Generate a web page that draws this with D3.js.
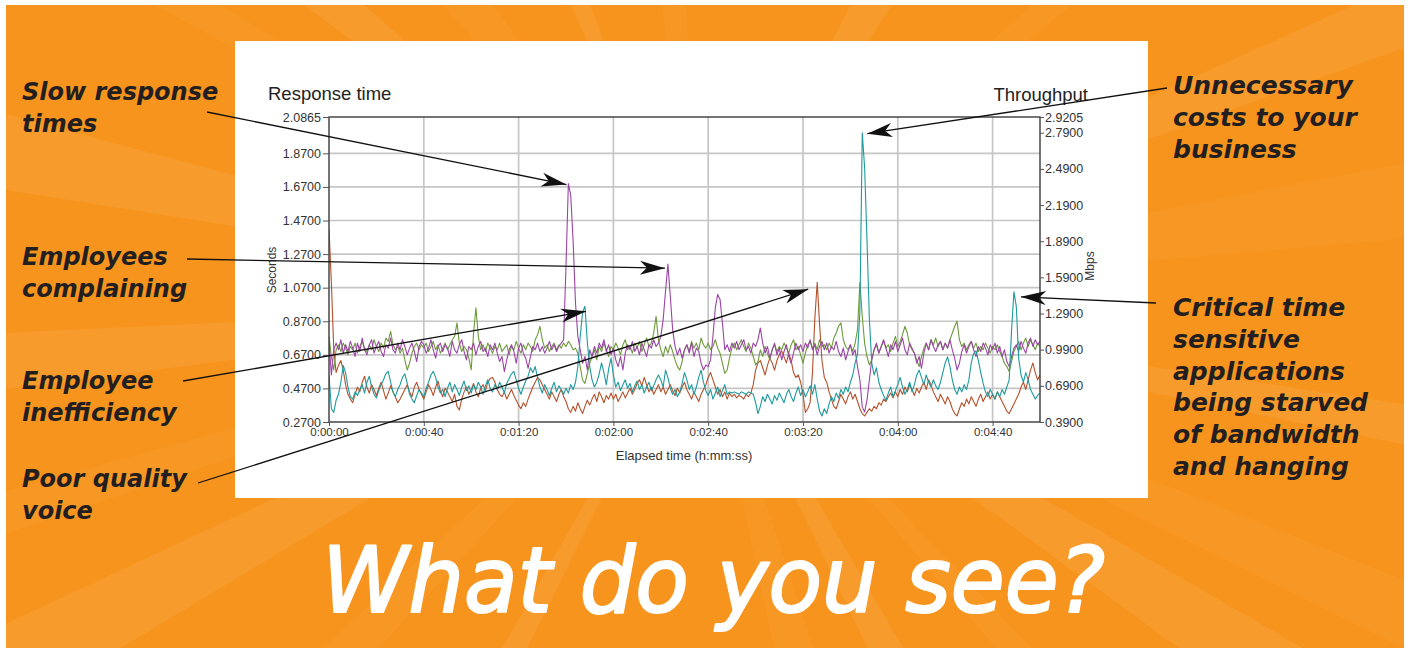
<!DOCTYPE html>
<html><head><meta charset="utf-8">
<script src="https://cdn.jsdelivr.net/npm/d3@7/dist/d3.min.js"></script>
<style>html,body{margin:0;padding:0;background:#fff;}svg{display:block;}</style>
</head><body>
<svg id="c" width="1411" height="652"></svg>
<script>
// ---------- DATA (one value per second, 0..300 s) ----------
const seconds = d3.range(0, 301);
const leftTicks = [2.0865, 1.87, 1.67, 1.47, 1.27, 1.07, 0.87, 0.67, 0.47, 0.27];
const rightTicks = [2.9205, 2.79, 2.49, 2.19, 1.89, 1.59, 1.29, 0.99, 0.69, 0.39];
const timeTicks = [0, 40, 80, 120, 160, 200, 240, 280];

// Response time (Seconds, left axis)
const purple = [
0.75,0.55,0.70,0.74,0.70,0.76,0.68,0.73,0.69,0.75,
0.71,0.66,0.74,0.69,0.77,0.70,0.67,0.73,0.76,0.68,
0.72,0.75,0.69,0.66,0.73,0.71,0.77,0.70,0.68,0.74,
0.70,0.76,0.72,0.67,0.71,0.74,0.69,0.63,0.72,0.75,
0.73,0.68,0.71,0.76,0.70,0.65,0.72,0.74,0.69,0.73,
0.71,0.66,0.75,0.70,0.68,0.73,0.76,0.69,0.64,0.72,
0.70,0.74,0.67,0.72,0.75,0.69,0.71,0.66,0.73,0.70,
0.74,0.68,0.63,0.66,0.57,0.64,0.70,0.73,0.69,0.62,
0.71,0.74,0.68,0.65,0.59,0.66,0.72,0.70,0.74,0.69,
0.72,0.68,0.71,0.75,0.70,0.73,0.69,0.72,0.74,0.76,
1.20,1.69,1.62,1.35,0.98,0.78,0.70,0.62,0.66,0.58,
0.70,0.66,0.72,0.68,0.74,0.71,0.76,0.69,0.73,0.67,
0.71,0.64,0.60,0.66,0.58,0.68,0.73,0.70,0.75,0.69,
0.72,0.67,0.74,0.70,0.66,0.73,0.71,0.76,0.72,0.74,
0.78,0.88,1.05,1.21,1.02,0.82,0.72,0.67,0.71,0.65,
0.70,0.73,0.68,0.74,0.66,0.71,0.69,0.62,0.58,0.61,
0.60,0.64,0.78,0.95,1.03,1.00,0.86,0.70,0.73,0.69,
0.74,0.71,0.75,0.70,0.73,0.76,0.70,0.72,0.68,0.74,
0.72,0.76,0.83,0.74,0.68,0.72,0.65,0.70,0.74,0.67,
0.71,0.64,0.69,0.73,0.66,0.62,0.68,0.74,0.70,0.73,
0.69,0.74,0.71,0.76,0.70,0.73,0.67,0.72,0.75,0.70,
0.74,0.68,0.72,0.70,0.75,0.69,0.66,0.71,0.64,0.69,
0.73,0.67,0.70,0.60,0.52,0.36,0.33,0.40,0.52,0.64,
0.70,0.74,0.68,0.72,0.76,0.71,0.66,0.73,0.70,0.75,
0.69,0.73,0.77,0.70,0.67,0.74,0.71,0.68,0.62,0.66,
0.59,0.68,0.74,0.70,0.76,0.72,0.69,0.73,0.75,0.70,
0.74,0.71,0.76,0.70,0.65,0.58,0.62,0.69,0.73,0.68,
0.72,0.75,0.70,0.66,0.72,0.69,0.74,0.71,0.67,0.73,
0.70,0.74,0.68,0.72,0.66,0.70,0.63,0.60,0.66,0.71,
0.73,0.69,0.75,0.71,0.68,0.74,0.77,0.72,0.76,0.73,
0.75];

// Response time (Seconds, left axis)
const green = [
0.78,0.66,0.58,0.70,0.73,0.69,0.74,0.71,0.67,0.72,
0.70,0.74,0.68,0.72,0.75,0.71,0.69,0.73,0.70,0.76,
0.72,0.69,0.74,0.71,0.77,0.75,0.81,0.73,0.70,0.72,
0.68,0.71,0.64,0.58,0.62,0.68,0.72,0.74,0.70,0.73,
0.71,0.74,0.69,0.72,0.75,0.70,0.73,0.68,0.71,0.74,
0.70,0.73,0.76,0.78,0.86,0.74,0.69,0.72,0.70,0.65,
0.58,0.80,0.95,0.78,0.70,0.73,0.69,0.74,0.71,0.68,
0.72,0.70,0.74,0.69,0.71,0.73,0.67,0.72,0.70,0.75,
0.71,0.68,0.73,0.70,0.74,0.72,0.69,0.76,0.79,0.84,
0.76,0.71,0.73,0.69,0.72,0.74,0.70,0.73,0.71,0.74,
0.72,0.75,0.73,0.70,0.71,0.68,0.60,0.52,0.50,0.56,
0.62,0.66,0.70,0.64,0.72,0.69,0.74,0.70,0.66,0.72,
0.70,0.74,0.71,0.67,0.73,0.76,0.70,0.72,0.68,0.74,
0.71,0.75,0.69,0.73,0.77,0.72,0.74,0.80,0.90,0.76,
0.70,0.66,0.72,0.68,0.73,0.69,0.64,0.60,0.58,0.63,
0.70,0.73,0.69,0.75,0.71,0.74,0.70,0.77,0.73,0.71,
0.74,0.70,0.72,0.76,0.71,0.68,0.62,0.56,0.58,0.65,
0.71,0.74,0.70,0.73,0.76,0.72,0.69,0.74,0.71,0.66,
0.61,0.63,0.70,0.66,0.72,0.68,0.64,0.70,0.73,0.69,
0.72,0.70,0.74,0.71,0.68,0.73,0.76,0.70,0.72,0.67,
0.62,0.68,0.73,0.75,0.71,0.74,0.70,0.76,0.72,0.73,
0.70,0.74,0.71,0.77,0.80,0.84,0.86,0.76,0.72,0.70,
0.73,0.69,0.74,0.82,1.10,0.90,0.74,0.66,0.61,0.64,
0.70,0.73,0.68,0.72,0.75,0.71,0.73,0.69,0.74,0.78,
0.72,0.75,0.79,0.84,0.80,0.73,0.70,0.68,0.64,0.60,
0.66,0.71,0.74,0.70,0.76,0.73,0.77,0.72,0.75,0.70,
0.74,0.71,0.76,0.80,0.84,0.87,0.76,0.72,0.74,0.70,
0.73,0.75,0.71,0.74,0.69,0.72,0.70,0.74,0.71,0.68,
0.72,0.70,0.73,0.69,0.66,0.62,0.60,0.57,0.63,0.69,
0.72,0.75,0.70,0.74,0.77,0.72,0.76,0.73,0.70,0.74,
0.72];

// Throughput (Mbps, right axis)
const teal = [
0.78,0.50,0.47,0.57,0.62,0.72,0.86,0.80,0.68,0.60,
0.58,0.64,0.61,0.66,0.70,0.63,0.72,0.77,0.68,0.62,
0.59,0.65,0.70,0.74,0.79,0.81,0.72,0.64,0.60,0.66,
0.70,0.76,0.79,0.71,0.62,0.58,0.55,0.61,0.66,0.63,
0.60,0.67,0.72,0.78,0.81,0.76,0.68,0.63,0.66,0.60,
0.67,0.72,0.64,0.70,0.66,0.61,0.68,0.73,0.65,0.69,
0.63,0.70,0.66,0.72,0.68,0.62,0.69,0.74,0.67,0.64,
0.70,0.66,0.72,0.68,0.63,0.71,0.75,0.79,0.81,0.74,
0.67,0.62,0.68,0.73,0.77,0.84,0.80,0.85,0.76,0.68,
0.63,0.70,0.66,0.61,0.67,0.72,0.64,0.69,0.66,0.62,
0.67,0.63,0.70,0.66,0.72,0.85,1.10,1.30,1.35,1.05,
0.85,0.74,0.68,0.72,0.79,0.88,0.80,0.70,0.83,0.92,
0.78,0.68,0.72,0.65,0.70,0.74,0.67,0.71,0.64,0.69,
0.73,0.66,0.70,0.63,0.68,0.72,0.65,0.69,0.74,0.78,
0.74,0.68,0.82,0.76,0.67,0.62,0.66,0.60,0.64,0.71,
0.80,0.74,0.66,0.70,0.62,0.68,0.76,0.82,0.72,0.65,
0.61,0.66,0.58,0.63,0.68,0.60,0.65,0.70,0.62,0.64,
0.63,0.64,0.63,0.62,0.64,0.63,0.62,0.64,0.63,0.62,
0.55,0.46,0.52,0.60,0.56,0.62,0.58,0.54,0.61,0.57,
0.63,0.59,0.55,0.62,0.66,0.60,0.56,0.63,0.68,0.61,
0.66,0.60,0.64,0.69,0.62,0.70,0.58,0.48,0.44,0.50,
0.46,0.54,0.60,0.56,0.63,0.59,0.66,0.62,0.68,0.64,
0.72,0.78,0.88,0.95,1.30,2.79,2.50,1.90,1.25,0.88,
0.78,0.84,0.72,0.66,0.61,0.57,0.63,0.68,0.60,0.65,
0.70,0.76,0.68,0.62,0.66,0.72,0.64,0.70,0.78,0.82,
0.76,0.70,0.78,0.72,0.68,0.74,0.69,0.66,0.72,0.80,
0.88,0.93,0.85,0.74,0.66,0.62,0.68,0.64,0.70,0.66,
0.74,0.88,0.96,0.98,0.90,0.80,0.71,0.64,0.60,0.66,
0.62,0.58,0.64,0.60,0.66,0.62,0.68,0.74,1.15,1.47,
1.35,0.92,0.78,0.72,0.80,0.74,0.66,0.62,0.58,0.61,
0.63];

// Throughput (Mbps, right axis)
const brown = [
1.99,1.55,1.00,0.80,0.86,0.90,0.82,0.70,0.62,0.58,
0.55,0.62,0.68,0.64,0.72,0.77,0.68,0.63,0.70,0.66,
0.61,0.67,0.72,0.65,0.58,0.63,0.69,0.64,0.60,0.55,
0.58,0.62,0.66,0.70,0.64,0.60,0.68,0.72,0.66,0.62,
0.58,0.64,0.70,0.66,0.61,0.68,0.73,0.65,0.60,0.67,
0.64,0.60,0.56,0.62,0.52,0.49,0.58,0.64,0.68,0.62,
0.66,0.71,0.64,0.60,0.67,0.70,0.65,0.72,0.75,0.76,
0.72,0.66,0.62,0.60,0.64,0.58,0.62,0.66,0.61,0.57,
0.53,0.50,0.55,0.52,0.58,0.63,0.68,0.72,0.76,0.74,
0.70,0.66,0.62,0.58,0.64,0.60,0.56,0.62,0.66,0.60,
0.56,0.50,0.47,0.52,0.48,0.55,0.50,0.46,0.52,0.57,
0.53,0.58,0.62,0.56,0.64,0.60,0.55,0.61,0.58,0.63,
0.58,0.62,0.56,0.60,0.64,0.59,0.63,0.67,0.62,0.66,
0.71,0.74,0.69,0.76,0.70,0.64,0.68,0.62,0.66,0.70,
0.64,0.68,0.62,0.66,0.70,0.65,0.61,0.67,0.63,0.68,
0.72,0.66,0.62,0.58,0.64,0.60,0.56,0.62,0.66,0.70,
0.76,0.80,0.74,0.68,0.62,0.66,0.60,0.64,0.58,0.63,
0.60,0.62,0.59,0.61,0.60,0.58,0.62,0.60,0.63,0.70,
0.82,0.88,0.90,0.84,0.78,0.86,0.92,0.88,0.82,0.90,
0.95,0.98,0.93,0.88,0.96,0.90,0.80,0.76,0.78,0.72,
0.62,0.47,0.50,0.55,0.80,1.25,1.55,1.20,0.90,0.76,
0.72,0.64,0.58,0.52,0.50,0.56,0.62,0.58,0.54,0.60,
0.64,0.58,0.62,0.56,0.50,0.46,0.44,0.47,0.50,0.48,
0.52,0.50,0.55,0.53,0.58,0.56,0.60,0.63,0.59,0.64,
0.60,0.66,0.62,0.68,0.64,0.70,0.66,0.61,0.67,0.63,
0.68,0.72,0.66,0.74,0.70,0.64,0.60,0.56,0.62,0.58,
0.54,0.60,0.56,0.50,0.46,0.44,0.50,0.55,0.52,0.58,
0.54,0.60,0.56,0.52,0.58,0.62,0.56,0.60,0.64,0.58,
0.62,0.58,0.64,0.60,0.56,0.52,0.48,0.46,0.50,0.54,
0.58,0.62,0.68,0.72,0.66,0.74,0.82,0.88,0.80,0.74,
0.78];

// annotations: text lines, arrow start, and the data point the arrow points at
const notes = [
  {lines:["Slow response","times"], side:"left", y0:100, from:[207,112], series:"purple", t:101, off:[-2,1]},
  {lines:["Employees","complaining"], side:"left", y0:265, from:[187,259], series:"purple", t:143, off:[-3,4]},
  {lines:["Employee","inefficiency"], side:"left", y0:389, from:[183,381], series:"teal", t:108, off:[1,5]},
  {lines:["Poor quality","voice"], side:"left", y0:487, from:[198,483], series:"brown", t:206, off:[-9,7]},
  {lines:["Unnecessary","costs to your","business"], side:"right", y0:94, from:[1167,88], series:"teal", t:225, off:[5,1]},
  {lines:["Critical time","sensitive","applications","being starved","of bandwidth","and hanging"], side:"right", y0:316, from:[1156,303], series:"teal", t:289, off:[7,5]}
];

// ---------- DRAW ----------
const svg = d3.select("#c");
const W = 1411, H = 652;
const P = {l:329, r:1040, t:117, b:422};

const x = d3.scaleLinear().domain([0,300]).range([P.l,P.r]);
const yL = d3.scaleLinear().domain([0.27,2.0865]).range([P.b,P.t]);
const yR = d3.scaleLinear().domain([0.39,2.9205]).range([P.b,P.t]);

// background
svg.append("rect").attr("x",0).attr("y",0).attr("width",W).attr("height",H).attr("fill","#fff");
const bg = svg.append("g");
bg.append("rect").attr("x",6).attr("y",5).attr("width",1398).attr("height",643).attr("fill","#F7941D");
const defs = svg.append("defs");
defs.append("clipPath").attr("id","bgclip").append("rect").attr("x",6).attr("y",5).attr("width",1398).attr("height",643);
defs.append("clipPath").attr("id","plotclip").append("rect").attr("x",P.l).attr("y",P.t-2).attr("width",P.r-P.l).attr("height",P.b-P.t+2);
const rays = bg.append("g").attr("clip-path","url(#bgclip)");
const cx = 700, cy = 300, R = 1200;
const rayAngles = [-168,-150,-141,-128,-112,-95,-60,-40,-22,-8,10,24,33,48,62,75,118,135,152,163,175];
rayAngles.forEach((a,i)=>{
  const w = (i%3===0?3.0:(i%3===1?1.6:2.3));
  const a1=(a-w)*Math.PI/180, a2=(a+w)*Math.PI/180;
  rays.append("path")
    .attr("d",`M${cx},${cy}L${cx+R*Math.cos(a1)},${cy+R*Math.sin(a1)}L${cx+R*Math.cos(a2)},${cy+R*Math.sin(a2)}Z`)
    .attr("fill","#FFFFFF").attr("opacity", i%2? 0.04:0.065);
});

// white chart panel
svg.append("rect").attr("x",235).attr("y",41).attr("width",913).attr("height",457).attr("fill","#fff");

// grid
const grid = svg.append("g");
leftTicks.filter(v=>v>0.27 && v<2.08).forEach(v=>{
  grid.append("line").attr("x1",P.l).attr("x2",P.r).attr("y1",yL(v)).attr("y2",yL(v))
    .attr("stroke","#c6c6c6").attr("stroke-width",1.7);
});
timeTicks.filter(t=>t>0).forEach(t=>{
  grid.append("line").attr("x1",x(t)).attr("x2",x(t)).attr("y1",P.t).attr("y2",P.b)
    .attr("stroke","#c6c6c6").attr("stroke-width",1.7);
});

// series
const lineL = d3.line().x((d,i)=>x(seconds[i])).y(d=>yL(d));
const lineR = d3.line().x((d,i)=>x(seconds[i])).y(d=>yR(d));
const series = {
  brown:{data:brown, color:"#B4512C", line:lineR, scale:yR},
  green:{data:green, color:"#6E9A3C", line:lineL, scale:yL},
  purple:{data:purple, color:"#9A45A6", line:lineL, scale:yL},
  teal:{data:teal, color:"#1E9A9C", line:lineR, scale:yR}
};
const lg = svg.append("g").attr("clip-path","url(#plotclip)");
["brown","green","purple","teal"].forEach(k=>{
  lg.append("path").attr("d",series[k].line(series[k].data)).attr("fill","none")
    .attr("stroke",series[k].color).attr("stroke-width",1.1).attr("stroke-linejoin","round");
});

// frame
svg.append("rect").attr("x",P.l).attr("y",P.t).attr("width",P.r-P.l).attr("height",P.b-P.t)
  .attr("fill","none").attr("stroke","#3a3a3a").attr("stroke-width",1.4);

// axes
const fmt = d3.format(".4f");
const axL = svg.append("g").attr("transform",`translate(${P.l},0)`)
  .call(d3.axisLeft(yL).tickValues(leftTicks).tickFormat(fmt).tickSize(6).tickPadding(2));
const axR = svg.append("g").attr("transform",`translate(${P.r},0)`)
  .call(d3.axisRight(yR).tickValues(rightTicks).tickFormat(fmt).tickSize(4).tickPadding(1));
const axB = svg.append("g").attr("transform",`translate(0,${P.b})`)
  .call(d3.axisBottom(x).tickValues(timeTicks).tickSize(4).tickPadding(2)
    .tickFormat(t=>`0:${String(Math.floor(t/60)).padStart(2,"0")}:${String(t%60).padStart(2,"0")}`));
[axL,axR,axB].forEach(a=>{
  a.select(".domain").remove();
  a.selectAll(".tick line").attr("stroke","#555");
  a.selectAll("text").attr("fill","#333").style("font-family","'Liberation Sans',Arial,sans-serif");
});
axL.selectAll("text").style("font-size","12.5px");
axR.selectAll("text").style("font-size","12.5px");
axB.selectAll("text").style("font-size","11.5px");

// titles
const tf = "'Liberation Sans',Arial,sans-serif";
svg.append("text").attr("x",268).attr("y",100).text("Response time")
  .style("font-family",tf).style("font-size","18.5px").attr("fill","#222");
svg.append("text").attr("x",1088).attr("y",101).attr("text-anchor","end").text("Throughput")
  .style("font-family",tf).style("font-size","18.5px").attr("fill","#222");
svg.append("text").attr("transform","translate(276,270) rotate(-90)").attr("text-anchor","middle").text("Seconds")
  .style("font-family",tf).style("font-size","12px").attr("fill","#333");
svg.append("text").attr("transform","translate(1094,266) rotate(-90)").attr("text-anchor","middle").text("Mbps")
  .style("font-family",tf).style("font-size","12px").attr("fill","#333");
svg.append("text").attr("x",684).attr("y",460).attr("text-anchor","middle").text("Elapsed time (h:mm:ss)")
  .style("font-family",tf).style("font-size","13px").attr("fill","#333");

// annotations
const ag = svg.append("g");
notes.forEach(n=>{
  const s = series[n.series];
  const tip = [x(n.t)+n.off[0], s.scale(s.data[n.t])+n.off[1]];
  const [fx,fy] = n.from;
  ag.append("line").attr("x1",fx).attr("y1",fy).attr("x2",tip[0]).attr("y2",tip[1])
    .attr("stroke","#111").attr("stroke-width",1.3);
  const ang = Math.atan2(tip[1]-fy, tip[0]-fx)*180/Math.PI;
  ag.append("path").attr("d","M0,0L-25,-7L-18,0L-25,7Z").attr("fill","#111")
    .attr("transform",`translate(${tip[0]},${tip[1]}) rotate(${ang})`);
  const t = ag.append("text")
    .style("font-family","'DejaVu Sans',sans-serif").style("font-weight","bold").style("font-style","italic")
    .style("font-size", n.side==="left" ? "24px" : "25px").attr("fill","#231f20");
  n.lines.forEach((ln,i)=>{
    t.append("tspan").attr("x", n.side==="left"?22:1173).attr("y", n.y0 + i*31.8).text(ln);
  });
});

// big question
svg.append("text").attr("x",322).attr("y",612).text("What do you see?")
  .attr("textLength",783).attr("lengthAdjust","spacingAndGlyphs")
  .style("font-family","'DejaVu Sans',sans-serif").style("font-style","italic").style("font-size","90px")
  .attr("fill","#fff").attr("stroke","#fff").attr("stroke-width",2.2).attr("stroke-linejoin","round");
</script>
</body></html>
